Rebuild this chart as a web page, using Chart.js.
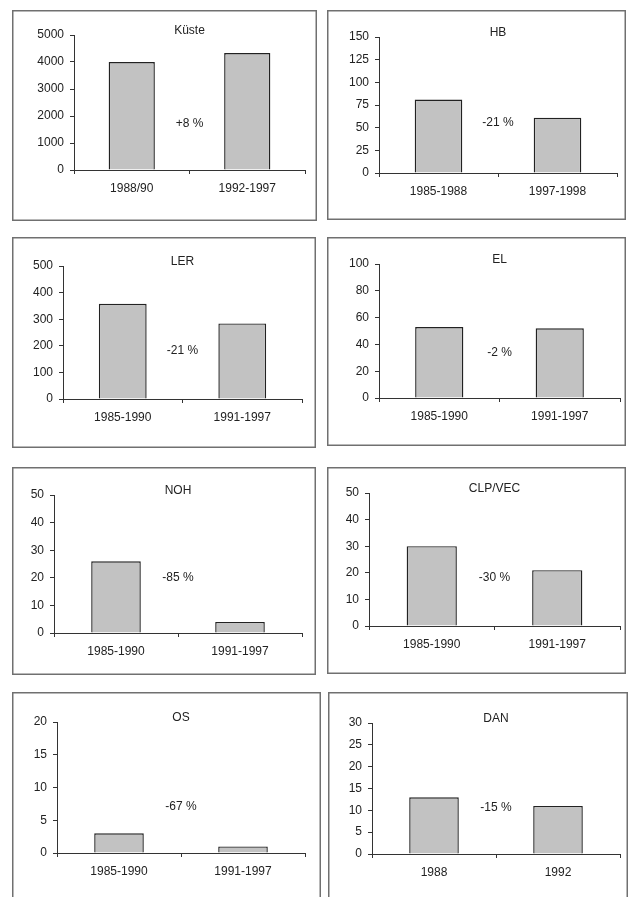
<!DOCTYPE html>
<html>
<head>
<meta charset="utf-8">
<script src="https://cdn.jsdelivr.net/npm/chart.js@4"></script>
<style>
  html, body { margin: 0; padding: 0; background: #fff; }
  body { width: 629px; height: 897px; overflow: hidden; position: relative; }
  .panel { position: absolute; }
</style>
</head>
<body>
<div id="wrap"></div>
<script>
// ── Data ──
const titles   = ['Küste', 'HB', 'LER', 'EL', 'NOH', 'CLP/VEC', 'OS', 'DAN'];
const periods  = [
  ['1988/90', '1992-1997'],
  ['1985-1988', '1997-1998'],
  ['1985-1990', '1991-1997'],
  ['1985-1990', '1991-1997'],
  ['1985-1990', '1991-1997'],
  ['1985-1990', '1991-1997'],
  ['1985-1990', '1991-1997'],
  ['1988', '1992'],
];
const values   = [[4000, 4330], [81, 61], [358, 284], [53, 52], [26, 4], [30, 21], [3, 1], [13, 11]];
const changes  = ['+8 %', '-21 %', '-21 %', '-2 %', '-85 %', '-30 %', '-67 %', '-15 %'];
const axisMax  = [5000, 150, 500, 100, 50, 50, 20, 30];
const axisStep = [1000, 25, 100, 20, 10, 10, 5, 5];

// ── Layout (page px): panel box and plot area ──
const boxes = [
  [12, 10, 305, 211], [327, 10, 299, 210],
  [12, 237, 304, 211], [327, 237, 299, 209],
  [12, 467, 304, 208], [327, 467, 299, 207],
  [12, 692, 309, 215], [328, 692, 300, 215],
];
const plots = [ // left, top, right, bottom
  [74, 35, 305, 170], [379, 37, 617, 173],
  [63, 266, 302, 399], [379, 264, 620, 398],
  [54, 495, 302, 633], [369, 493, 620, 626],
  [57, 722, 305, 853], [372, 723, 620, 854],
];
const noteLevels = [1700, 55, 180, 34, 20, 18, 7, 10.5];

const FONT   = { family: '"Liberation Sans", Arial, sans-serif', size: 12 };
const INK    = '#222';
const AXIS   = '#333';
const Y_W    = 42;   // fixed y-axis width
const X_H    = 30;   // fixed x-axis height

const panelText = {
  id: 'panelText',
  afterDraw(chart, args, opts) {
    const { ctx, chartArea, scales } = chart;
    ctx.save();
    ctx.strokeStyle = '#707070';
    ctx.lineWidth = 1.5;
    ctx.strokeRect(0.75, 0.75, chart.width - 1.5, chart.height - 1.5);
    ctx.fillStyle = INK;
    ctx.font = `${FONT.size}px ${FONT.family}`;
    ctx.textAlign = 'center';
    ctx.textBaseline = 'middle';
    ctx.fillText(opts.title, (chartArea.left + chartArea.right) / 2, chartArea.top - 4);
    const xm = (scales.x.getPixelForValue(0) + scales.x.getPixelForValue(1)) / 2;
    ctx.fillText(opts.note, xm, scales.y.getPixelForValue(opts.noteAt));
    ctx.restore();
  },
};

const wrap = document.getElementById('wrap');
titles.forEach((title, i) => {
  const [bx, by, bw, bh] = boxes[i];
  const [pl, pt, pr, pb] = plots[i];
  const div = document.createElement('div');
  div.className = 'panel';
  div.style.left = bx + 'px';
  div.style.top = by + 'px';
  div.style.width = bw + 'px';
  div.style.height = bh + 'px';
  const cv = document.createElement('canvas');
  cv.width = bw; cv.height = bh;
  cv.style.width = bw + 'px'; cv.style.height = bh + 'px';
  div.appendChild(cv);
  wrap.appendChild(div);

  new Chart(cv.getContext('2d'), {
    type: 'bar',
    data: {
      labels: periods[i],
      datasets: [{
        data: values[i],
        backgroundColor: '#c2c2c2',
        borderColor: '#222',
        borderWidth: 1.4,
        borderSkipped: 'bottom',
        barPercentage: 0.4,
        categoryPercentage: 1,
      }],
    },
    options: {
      responsive: false,
      animation: false,
      events: [],
      layout: {
        padding: {
          left: pl - bx - Y_W,
          top: pt - by,
          right: bx + bw - pr,
          bottom: by + bh - pb - X_H,
        },
      },
      plugins: {
        legend: { display: false },
        tooltip: { enabled: false },
        panelText: { title, note: changes[i], noteAt: noteLevels[i] },
      },
      scales: {
        x: {
          offset: true,
          afterFit(s) { s.height = X_H; },
          grid: { offset: true, drawOnChartArea: false, drawTicks: true, tickLength: 4, color: AXIS },
          border: { color: AXIS, width: 1 },
          ticks: { color: INK, font: FONT, padding: 7, maxRotation: 0 },
        },
        y: {
          min: 0,
          max: axisMax[i],
          afterFit(s) { s.width = Y_W; },
          grid: { drawOnChartArea: false, drawTicks: true, tickLength: 4, color: AXIS },
          border: { color: AXIS, width: 1 },
          ticks: { stepSize: axisStep[i], color: INK, font: FONT, padding: 6, callback: v => String(v) },
        },
      },
    },
    plugins: [panelText],
  });
});
</script>
</body>
</html>
